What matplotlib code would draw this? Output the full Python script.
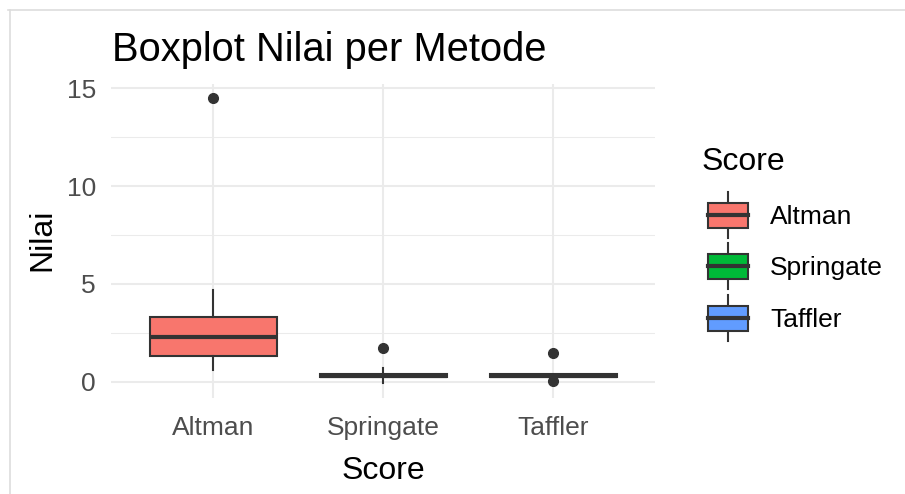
import matplotlib
matplotlib.use("Agg")
import matplotlib.pyplot as plt
from matplotlib.patches import Rectangle

plt.rcParams['font.family'] = ['Liberation Sans', 'DejaVu Sans']

# ---- data ----
categories = ["Altman", "Springate", "Taffler"]
colors = ["#F8766D", "#00BA38", "#619CFF"]
q1 = [1.32, 0.23, 0.23]
median = [2.31, 0.30, 0.30]
q3 = [3.32, 0.37, 0.37]
whisker_low = [0.62, -0.08, 0.22]
whisker_high = [4.69, 0.68, 0.40]
outliers = [[14.5], [1.70], [1.49, 0.03]]
yticks = [0, 5, 10, 15]

W, H = 905, 494
fig = plt.figure(figsize=(W / 100, H / 100), dpi=100)

def px_box(x0, x1, ytop, ybot):
    return [x0 / W, 1 - ybot / H, (x1 - x0) / W, (ybot - ytop) / H]

ax = fig.add_axes(px_box(111.3, 655.3, 84, 397.5))

stats = []
for i, c in enumerate(categories):
    stats.append(dict(label=c, q1=q1[i], med=median[i], q3=q3[i],
                      whislo=whisker_low[i], whishi=whisker_high[i],
                      fliers=outliers[i]))

edge = "#333333"
LW = 1.5
bp = ax.bxp(stats, positions=[1, 2, 3], widths=0.75, patch_artist=True,
            showcaps=False,
            boxprops=dict(edgecolor=edge, linewidth=LW),
            medianprops=dict(color=edge, linewidth=3.0, solid_capstyle='butt'),
            whiskerprops=dict(color=edge, linewidth=LW),
            flierprops=dict(marker='o', markerfacecolor=edge, markeredgecolor=edge,
                            markersize=7),
            zorder=3)
for patch, col in zip(bp['boxes'], colors):
    patch.set_facecolor(col)

allv = [v for o in outliers for v in o] + whisker_low + whisker_high
lo, hi = min(allv), max(allv)
rng = hi - lo
ax.set_ylim(lo - 0.05 * rng, hi + 0.05 * rng)
ax.set_xlim(0.4, 3.6)
ax.set_yticks(yticks)
ax.set_yticks([2.5, 7.5, 12.5], minor=True)
ax.set_xticks([1, 2, 3])
ax.set_xticklabels(categories)

ax.grid(True, which='major', axis='both', color='#EBEBEB', linewidth=1.5, zorder=0)
ax.grid(True, which='minor', axis='y', color='#EBEBEB', linewidth=0.75, zorder=0)
ax.set_axisbelow(True)
for s in ax.spines.values():
    s.set_visible(False)
ax.tick_params(axis='both', which='both', length=0, labelsize=19, labelcolor='#4D4D4D')
ax.tick_params(axis='y', pad=11)
ax.tick_params(axis='x', pad=13)

# overlay axes in pixel coordinates for title, labels, legend, frame
ov = fig.add_axes([0, 0, 1, 1], zorder=-1)
ov.set_xlim(0, W)
ov.set_ylim(H, 0)
ov.axis('off')
ov.plot([8, W], [10, 10], color='#DDDDDD', lw=1.2)
ov.plot([10, 10], [10, H], color='#DDDDDD', lw=1.2)

ov.text(112, 61, "Boxplot Nilai per Metode", fontsize=28.7, color='black',
        ha='left', va='baseline')
ov.text(383.3, 479, "Score", fontsize=23, color='black', ha='center', va='baseline')
ov.text(42, 240, "Nilai", fontsize=23, color='black', ha='center', va='center',
        rotation=90)

# legend
ov.text(702, 170, "Score", fontsize=23, color='black', ha='left', va='baseline')
key_centers = [215, 266, 318]
for yc, col, lab in zip(key_centers, colors, categories):
    ov.add_patch(Rectangle((708, yc - 12.5), 40, 25, facecolor=col,
                           edgecolor=edge, linewidth=LW, zorder=3))
    ov.plot([728, 728], [yc - 23, yc - 12.5], color=edge, lw=LW)
    ov.plot([728, 728], [yc + 12.5, yc + 23], color=edge, lw=LW)
    ov.plot([708, 748], [yc, yc], color=edge, lw=3.0, zorder=4)
    ov.text(770, yc + 2, lab, fontsize=19, color='black', ha='left', va='center')

fig.savefig("out.png", dpi=100)
